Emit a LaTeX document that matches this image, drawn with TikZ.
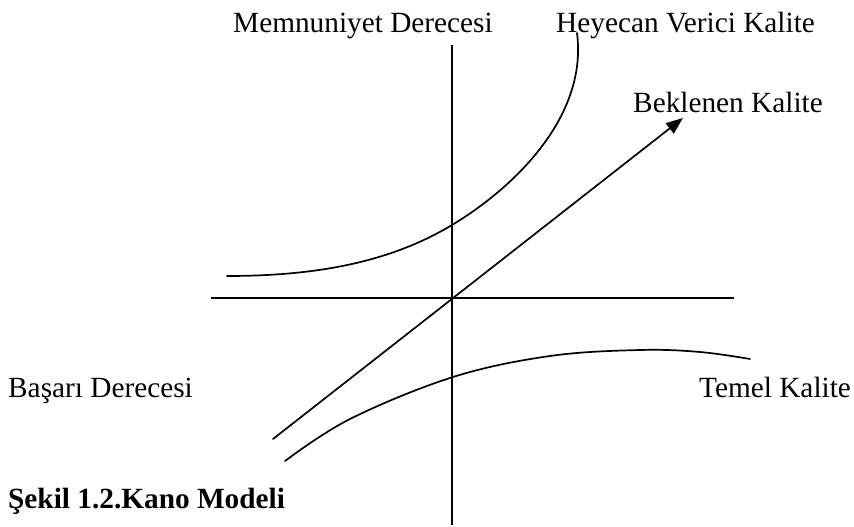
\documentclass[tikz,border=0pt]{standalone}
\usepackage{fontspec}
\setmainfont{Liberation Serif}
\usetikzlibrary{arrows.meta}
\tikzset{
  lbl/.style={anchor=base west, inner sep=0pt, font=\fontsize{29.3}{34}\selectfont},
  axisline/.style={line width=1.7pt},
  curveline/.style={line width=1.7pt, line cap=round},
}
\begin{document}
\begin{tikzpicture}[x=1pt,y=-1pt]
\useasboundingbox (0,0) rectangle (854,527);
% labels
\node[lbl] (memn) at (233,33) {Memnuniyet Derecesi};
\node[lbl] (heye) at (556,33) {Heyecan Verici Kalite};
\node[lbl] (bekl) at (633,112) {Beklenen Kalite};
\node[lbl] (basa) at (8,397) {Başarı Derecesi};
\node[lbl] (teme) at (699,397) {Temel Kalite};
\node[lbl, font=\fontsize{29.3}{34}\selectfont\bfseries] (cap) at (8,508) {Şekil 1.2.Kano Modeli};
% axes
\coordinate (vTop) at (452,45);
\coordinate (vBot) at (452,525);
\coordinate (hL) at (211,298);
\coordinate (hR) at (734,298);
\draw[axisline] (vTop) -- (vBot);
\draw[axisline] (hL) -- (hR);
% expected quality arrow
\coordinate (aS) at (273,439);
\coordinate (aE) at (683,118);
\draw[curveline, -{Triangle[length=17pt,width=13pt]}] (aS) -- (aE);
% excitement curve
\coordinate (eA) at (227,276);
\coordinate (eB) at (452,225);
\coordinate (eC) at (577,33);
\draw[curveline] (eA) .. controls (320,276) and (392,261) .. (eB)
                      .. controls (512,189) and (588,118) .. (eC);
% basic quality curve
\draw[curveline] plot[smooth, tension=0.6] coordinates {(285,461) (350,419) (453,377) (550,356) (640,350) (700,352) (750,359)};
\end{tikzpicture}
\end{document}
